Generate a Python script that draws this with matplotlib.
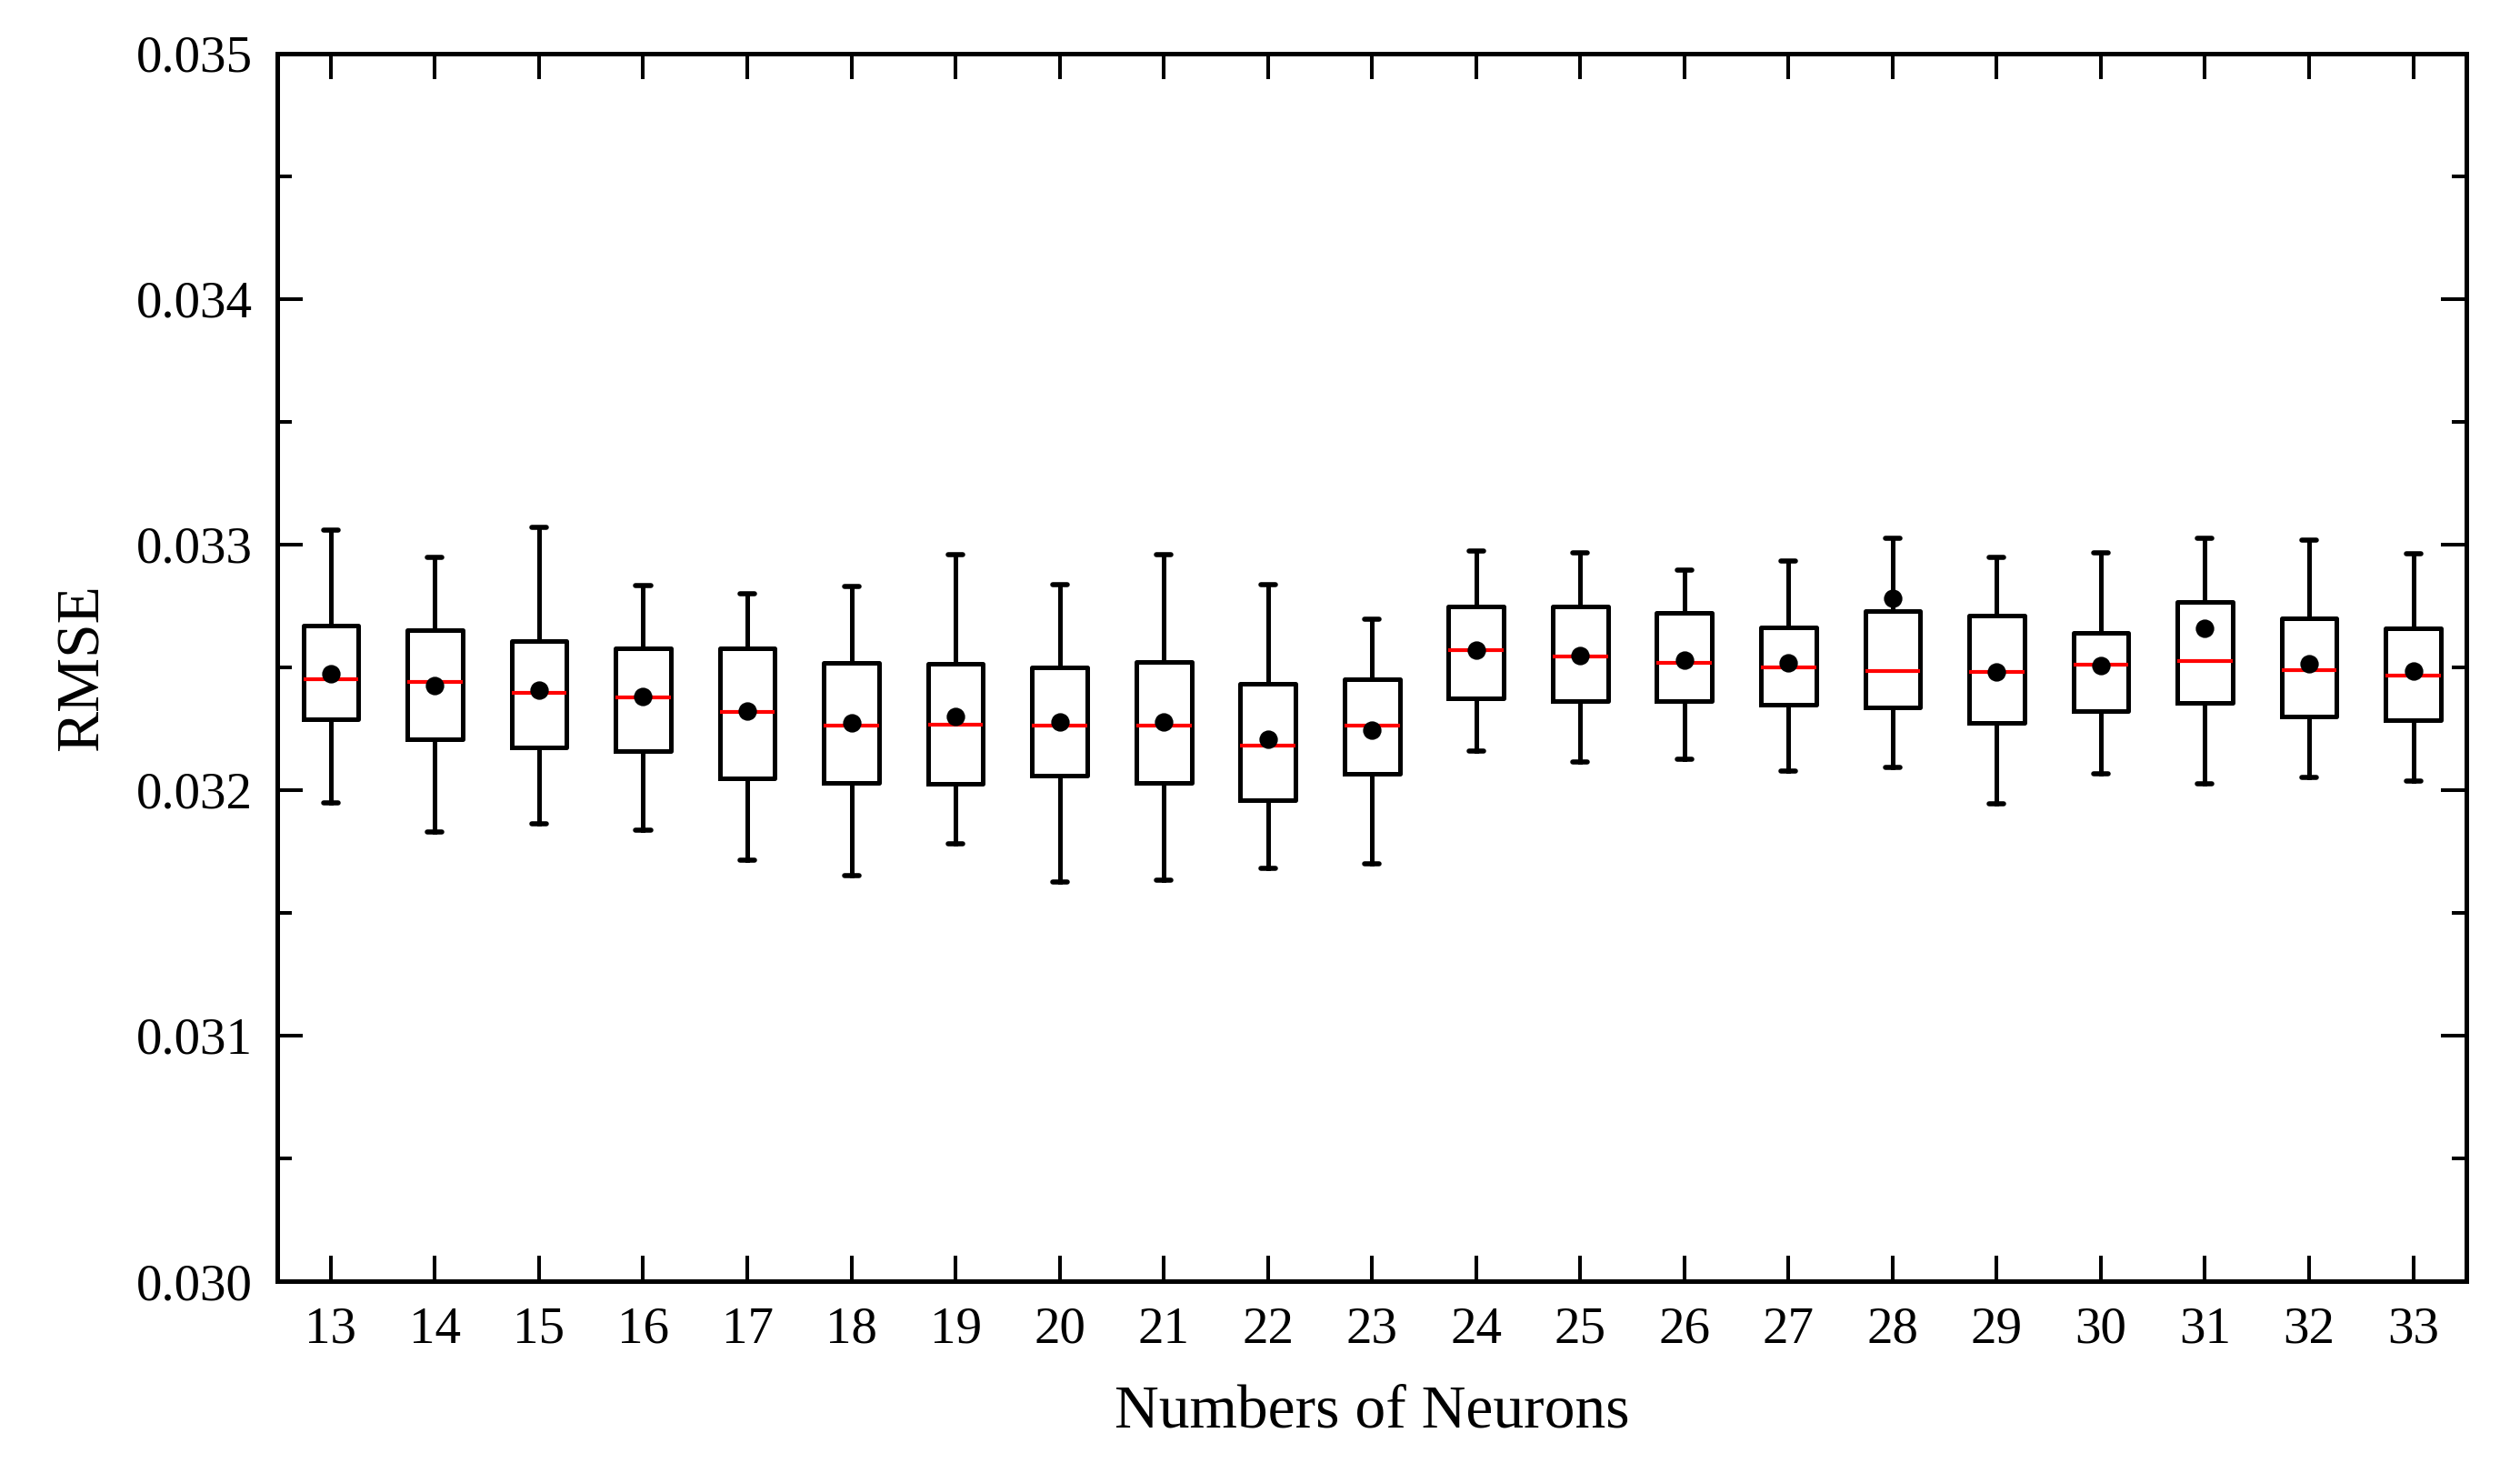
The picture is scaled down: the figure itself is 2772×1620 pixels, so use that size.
import matplotlib
matplotlib.use("Agg")
import matplotlib.pyplot as plt
from matplotlib.ticker import MultipleLocator, FormatStrFormatter

# values
neurons = list(range(13, 34))
whisker_low = [0.031947, 0.031830, 0.031861, 0.031838, 0.031716, 0.031651, 0.031780,
               0.031626, 0.031632, 0.031681, 0.031700, 0.032159, 0.032114, 0.032124,
               0.032077, 0.032094, 0.031943, 0.032066, 0.032027, 0.032052, 0.032037]
q1 = [0.032290, 0.032206, 0.032175, 0.032160, 0.032046, 0.032031, 0.032025,
      0.032058, 0.032031, 0.031959, 0.032068, 0.032373, 0.032363, 0.032364,
      0.032349, 0.032338, 0.032272, 0.032321, 0.032354, 0.032299, 0.032286]
median = [0.032451, 0.032442, 0.032397, 0.032377, 0.032317, 0.032262, 0.032266,
          0.032262, 0.032262, 0.032180, 0.032262, 0.032570, 0.032544, 0.032517,
          0.032500, 0.032484, 0.032480, 0.032511, 0.032525, 0.032488, 0.032465]
q3 = [0.032669, 0.032651, 0.032607, 0.032579, 0.032577, 0.032519, 0.032515,
      0.032500, 0.032523, 0.032433, 0.032451, 0.032746, 0.032746, 0.032721,
      0.032663, 0.032728, 0.032712, 0.032641, 0.032766, 0.032700, 0.032657]
whisker_high = [0.033058, 0.032949, 0.033068, 0.032832, 0.032799, 0.032830, 0.032957,
                0.032836, 0.032957, 0.032836, 0.032694, 0.032975, 0.032966, 0.032897,
                0.032934, 0.033027, 0.032947, 0.032966, 0.033027, 0.033019, 0.032962]
mean = [0.032474, 0.032426, 0.032407, 0.032381, 0.032320, 0.032272, 0.032299,
        0.032278, 0.032278, 0.032206, 0.032243, 0.032568, 0.032548, 0.032530,
        0.032517, 0.032780, 0.032480, 0.032506, 0.032657, 0.032515, 0.032484]

plt.rcParams.update({"font.family": ["Liberation Serif", "DejaVu Serif"],
                     "axes.linewidth": 1.8})

fig = plt.figure(figsize=(13.86, 8.10), dpi=200)
ax = fig.add_axes([0.1102, 0.1302, 0.8685, 0.8336])

stats = [dict(med=m, q1=a, q3=b, whislo=lo, whishi=hi, mean=mu, fliers=[])
         for m, a, b, lo, hi, mu in zip(median, q1, q3, whisker_low, whisker_high, mean)]
ax.bxp(stats, positions=neurons, widths=0.53, capwidths=0.14, showmeans=True,
       showfliers=False, manage_ticks=False,
       boxprops=dict(color="black", lw=1.8),
       whiskerprops=dict(color="black", lw=1.8),
       capprops=dict(color="black", lw=2.0, solid_capstyle="round"),
       medianprops=dict(color="red", lw=1.5),
       meanprops=dict(marker="o", markerfacecolor="black", markeredgecolor="black",
                      markersize=6.3))

ax.set_xlim(12.49, 33.51)
ax.set_ylim(0.030, 0.035)
ax.set_xticks(neurons)
ax.yaxis.set_major_locator(MultipleLocator(0.001))
ax.yaxis.set_minor_locator(MultipleLocator(0.0005))
ax.yaxis.set_major_formatter(FormatStrFormatter("%.3f"))
ax.tick_params(which="both", direction="in", top=True, right=True, width=1.45,
               labelsize=20.5, pad=10)
ax.tick_params(which="major", length=10)
ax.tick_params(which="minor", length=5.8)

ax.set_xlabel("Numbers of Neurons", fontsize=24.3, labelpad=12)
ax.set_ylabel("RMSE", fontsize=24.3, labelpad=10)

fig.savefig("out.png", dpi=200)
